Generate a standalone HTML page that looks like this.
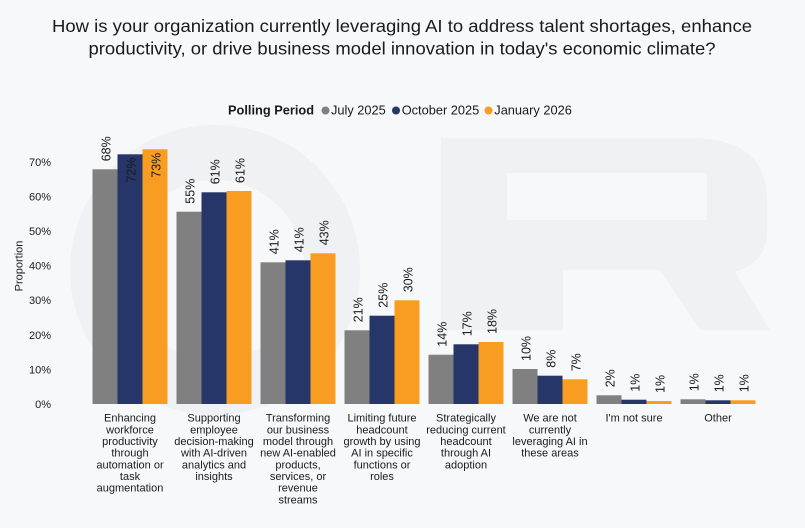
<!DOCTYPE html>
<html>
<head>
<meta charset="utf-8">
<style>
html,body{margin:0;padding:0;background:#f7f8fa;}
svg{display:block;}
text{font-family:"Liberation Sans",Arial,sans-serif;}
</style>
</head>
<body>
<svg width="805" height="528" viewBox="0 0 805 528" xmlns="http://www.w3.org/2000/svg">
<rect x="0" y="0" width="805" height="528" fill="#f7f8fa"/>

<!-- faint watermark -->
<g fill="#eff1f4">
  <path d="M215,125 a145,145 0 1,0 0.1,0 z M215,180 a90,90 0 1,1 -0.1,0 z" fill-rule="evenodd"/>
  <path d="M441,138 L690,138 Q767,138 767,200 L767,232 Q767,262 735,272 L770,330 L700,330 L660,270 L563,270 L563,330 L441,330 Z M507,173 L507,220 L707,220 L707,173 Z" fill-rule="evenodd"/>
</g>

<!-- title -->
<text x="402" y="32" font-size="17.5" fill="#1a1a1a" text-anchor="middle" textLength="700" lengthAdjust="spacingAndGlyphs">How is your organization currently leveraging AI to address talent shortages, enhance</text>
<text x="402" y="54.5" font-size="17.5" fill="#1a1a1a" text-anchor="middle" textLength="627" lengthAdjust="spacingAndGlyphs">productivity, or drive business model innovation in today's economic climate?</text>

<!-- legend -->
<text x="228" y="114.5" font-size="12.8" font-weight="bold" fill="#1a1a1a">Polling Period</text>
<circle cx="325.5" cy="110.5" r="4" fill="#808080"/>
<text x="331" y="114.5" font-size="12.8" fill="#1a1a1a">July 2025</text>
<circle cx="396" cy="110.5" r="4" fill="#263669"/>
<text x="401.7" y="114.5" font-size="12.8" fill="#1a1a1a">October 2025</text>
<circle cx="488.5" cy="110.5" r="4" fill="#f89d21"/>
<text x="494.3" y="114.5" font-size="12.8" fill="#1a1a1a">January 2026</text>

<!-- y axis -->
<g font-size="11" fill="#1a1a1a" text-anchor="end">
  <text x="51" y="408">0%</text>
  <text x="51" y="373.4">10%</text>
  <text x="51" y="338.8">20%</text>
  <text x="51" y="304.2">30%</text>
  <text x="51" y="269.6">40%</text>
  <text x="51" y="235">50%</text>
  <text x="51" y="200.4">60%</text>
  <text x="51" y="165.8">70%</text>
</g>
<text transform="translate(22.7,266) rotate(-90)" font-size="11" fill="#1a1a1a" text-anchor="middle">Proportion</text>

<!-- bars -->
<g>
  <!-- G1 -->
  <rect x="92.5" y="169.3" width="25" height="234.7" fill="#808080"/>
  <rect x="117.5" y="154.3" width="25" height="249.7" fill="#263669"/>
  <rect x="142.5" y="149.3" width="25" height="254.7" fill="#f89d21"/>
  <!-- G2 -->
  <rect x="176.5" y="211.7" width="25" height="192.3" fill="#808080"/>
  <rect x="201.5" y="192.3" width="25" height="211.7" fill="#263669"/>
  <rect x="226.5" y="191" width="25" height="213" fill="#f89d21"/>
  <!-- G3 -->
  <rect x="260.5" y="262.3" width="25" height="141.7" fill="#808080"/>
  <rect x="285.5" y="260.3" width="25" height="143.7" fill="#263669"/>
  <rect x="310.5" y="253.3" width="25" height="150.7" fill="#f89d21"/>
  <!-- G4 -->
  <rect x="344.5" y="330.3" width="25" height="73.7" fill="#808080"/>
  <rect x="369.5" y="315.7" width="25" height="88.3" fill="#263669"/>
  <rect x="394.5" y="300.3" width="25" height="103.7" fill="#f89d21"/>
  <!-- G5 -->
  <rect x="428.5" y="354.7" width="25" height="49.3" fill="#808080"/>
  <rect x="453.5" y="344.3" width="25" height="59.7" fill="#263669"/>
  <rect x="478.5" y="342" width="25" height="62" fill="#f89d21"/>
  <!-- G6 -->
  <rect x="512.5" y="369" width="25" height="35" fill="#808080"/>
  <rect x="537.5" y="375.7" width="25" height="28.3" fill="#263669"/>
  <rect x="562.5" y="379.3" width="25" height="24.7" fill="#f89d21"/>
  <!-- G7 -->
  <rect x="596.5" y="395.3" width="25" height="8.7" fill="#808080"/>
  <rect x="621.5" y="399.7" width="25" height="4.3" fill="#263669"/>
  <rect x="646.5" y="401" width="25" height="3" fill="#f89d21"/>
  <!-- G8 -->
  <rect x="680.5" y="399.3" width="25" height="4.7" fill="#808080"/>
  <rect x="705.5" y="400.3" width="25" height="3.7" fill="#263669"/>
  <rect x="730.5" y="400.3" width="25" height="3.7" fill="#f89d21"/>
</g>

<!-- value labels -->
<g font-size="12.5" fill="#1a1a1a">
  <text transform="translate(110.5,161.3) rotate(-90)">68%</text>
  <text transform="translate(135.5,157.5) rotate(-90)" text-anchor="end">72%</text>
  <text transform="translate(160.5,152.7) rotate(-90)" text-anchor="end">73%</text>

  <text transform="translate(194.5,203.7) rotate(-90)">55%</text>
  <text transform="translate(219.5,184.3) rotate(-90)">61%</text>
  <text transform="translate(244.5,183) rotate(-90)">61%</text>

  <text transform="translate(278.5,254.3) rotate(-90)">41%</text>
  <text transform="translate(303.5,252.3) rotate(-90)">41%</text>
  <text transform="translate(328.5,245.3) rotate(-90)">43%</text>

  <text transform="translate(362.5,322.3) rotate(-90)">21%</text>
  <text transform="translate(387.5,307.7) rotate(-90)">25%</text>
  <text transform="translate(412.5,292.3) rotate(-90)">30%</text>

  <text transform="translate(446.5,346.7) rotate(-90)">14%</text>
  <text transform="translate(471.5,336.3) rotate(-90)">17%</text>
  <text transform="translate(496.5,334) rotate(-90)">18%</text>

  <text transform="translate(530.5,361) rotate(-90)">10%</text>
  <text transform="translate(555.5,367.7) rotate(-90)">8%</text>
  <text transform="translate(580.5,371.3) rotate(-90)">7%</text>

  <text transform="translate(614.5,387.3) rotate(-90)">2%</text>
  <text transform="translate(639.5,391.7) rotate(-90)">1%</text>
  <text transform="translate(664.5,393) rotate(-90)">1%</text>

  <text transform="translate(698.5,391.3) rotate(-90)">1%</text>
  <text transform="translate(723.5,392.3) rotate(-90)">1%</text>
  <text transform="translate(748.5,392.3) rotate(-90)">1%</text>
</g>

<!-- x category labels -->
<g font-size="11" fill="#1a1a1a" text-anchor="middle">
  <text x="130" y="421.7">Enhancing</text>
  <text x="130" y="433.4">workforce</text>
  <text x="130" y="445.1">productivity</text>
  <text x="130" y="456.7">through</text>
  <text x="130" y="468.4">automation or</text>
  <text x="130" y="480.1">task</text>
  <text x="130" y="491.7">augmentation</text>

  <text x="214" y="421.7">Supporting</text>
  <text x="214" y="433.4">employee</text>
  <text x="214" y="445.1">decision-making</text>
  <text x="214" y="456.7">with AI-driven</text>
  <text x="214" y="468.4">analytics and</text>
  <text x="214" y="480.1">insights</text>

  <text x="298" y="421.7">Transforming</text>
  <text x="298" y="433.4">our business</text>
  <text x="298" y="445.1">model through</text>
  <text x="298" y="456.7">new AI-enabled</text>
  <text x="298" y="468.4">products,</text>
  <text x="298" y="480.1">services, or</text>
  <text x="298" y="491.7">revenue</text>
  <text x="298" y="503.4">streams</text>

  <text x="382" y="421.7">Limiting future</text>
  <text x="382" y="433.4">headcount</text>
  <text x="382" y="445.1">growth by using</text>
  <text x="382" y="456.7">AI in specific</text>
  <text x="382" y="468.4">functions or</text>
  <text x="382" y="480.1">roles</text>

  <text x="466" y="421.7">Strategically</text>
  <text x="466" y="433.4">reducing current</text>
  <text x="466" y="445.1">headcount</text>
  <text x="466" y="456.7">through AI</text>
  <text x="466" y="468.4">adoption</text>

  <text x="550" y="421.7">We are not</text>
  <text x="550" y="433.4">currently</text>
  <text x="550" y="445.1">leveraging AI in</text>
  <text x="550" y="456.7">these areas</text>

  <text x="634" y="421.7">I'm not sure</text>

  <text x="718" y="421.7">Other</text>
</g>
</svg>
</body>
</html>
